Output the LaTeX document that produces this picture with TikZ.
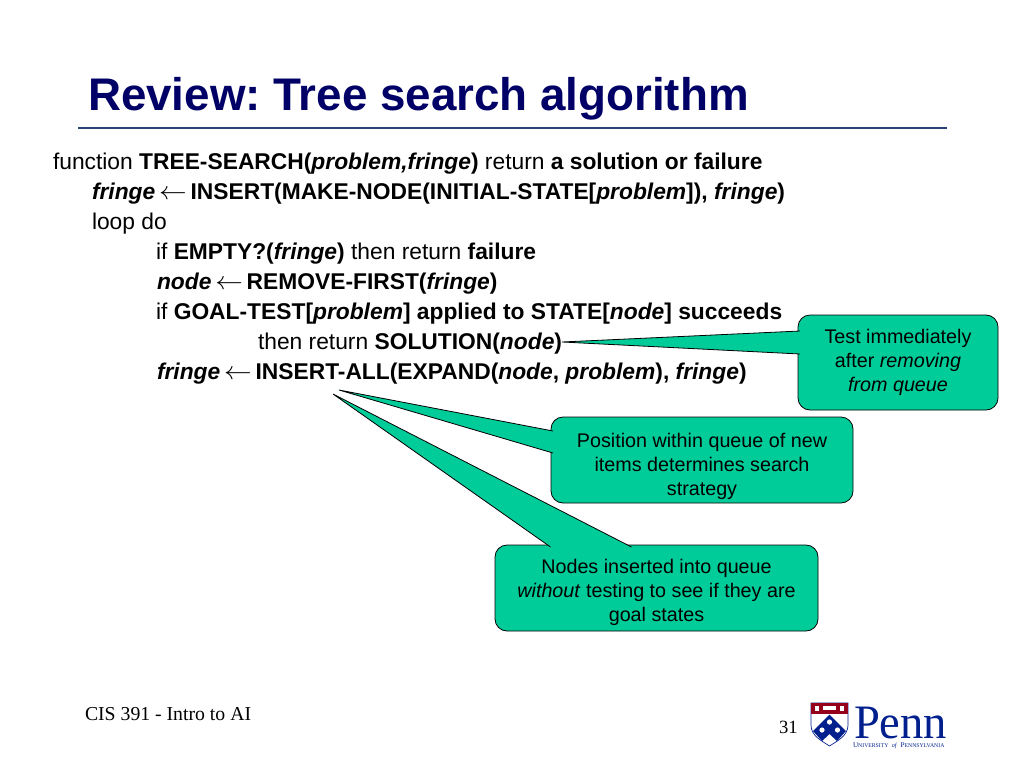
\documentclass[tikz,border=0pt]{standalone}
\usepackage{fontspec}
\usepackage{graphicx}
\setmainfont{Liberation Sans}
\newfontfamily\timesfont{Liberation Serif}
\usetikzlibrary{calc}
\definecolor{titleblue}{RGB}{0,0,102}
\definecolor{rulelineblue}{RGB}{40,70,120}
\definecolor{calloutgreen}{RGB}{0,204,153}
\definecolor{pennblue}{RGB}{1,31,141}
\definecolor{pennred}{RGB}{149,0,26}
\newcommand{\bi}[1]{\textbf{\textit{#1}}}
\newcommand{\fromarrow}{\,\scalebox{1.2}[1.1]{$\leftarrow$}\,}
\newcommand{\smcap}[2]{{\fontsize{5.4}{6}\selectfont #1}{\fontsize{4.3}{6}\selectfont #2}}
\begin{document}
\begin{tikzpicture}[x=.75pt,y=-.75pt,inner sep=0pt,outer sep=0pt,
codeline/.style={anchor=base west,font=\fontsize{17.1}{20}\selectfont},
callbox/.style={draw=black,fill=calloutgreen,rounded corners=9pt,line width=.6pt,align=center,font=\fontsize{14.8}{18}\selectfont},
calltail/.style={draw=black,fill=calloutgreen,line width=.6pt,line join=miter}]
\useasboundingbox (0,0) rectangle (1024,768);

\draw (88,110) node[anchor=base west,text=titleblue,font=\fontsize{34.3}{36}\selectfont\bfseries\frenchspacing] (title) {Review: Tree search algorithm};
\coordinate (ruleleft) at (78,128);
\coordinate (ruleright) at (947,128);
\draw[rulelineblue,line width=1pt] (ruleleft) -- (ruleright);

\draw (53,169) node[codeline] (l1) {function \textbf{TREE-SEARCH(}\bi{problem,fringe}\textbf{)} return \textbf{a solution or failure}};
\draw (92,199) node[codeline] (l2) {\bi{fringe}\fromarrow\textbf{INSERT(MAKE-NODE(INITIAL-STATE[}\bi{problem}\textbf{]),} \bi{fringe}\textbf{)}};
\draw (92,229) node[codeline] (l3) {loop do};
\draw (156,259) node[codeline] (l4) {if \textbf{EMPTY?(}\bi{fringe}\textbf{)} then return \textbf{failure}};
\draw (157,289) node[codeline] (l5) {\bi{node}\fromarrow\textbf{REMOVE-FIRST(}\bi{fringe}\textbf{)}};
\draw (156,319) node[codeline] (l6) {if \textbf{GOAL-TEST[}\bi{problem}\textbf{] applied to STATE[}\bi{node}\textbf{] succeeds}};
\draw (258,349) node[codeline] (l7) {then return \textbf{SOLUTION(}\bi{node}\textbf{)}};
\draw (157,379) node[codeline] (l8) {\bi{fringe}\fromarrow\textbf{INSERT-ALL(EXPAND(}\bi{node}\textbf{,} \bi{problem}\textbf{),} \bi{fringe}\textbf{)}};

\draw (898,362.5) node[callbox,minimum width=150pt,minimum height=71.25pt] (test) {Test immediately\\after \textit{removing}\\\textit{from queue}};
\draw (656.5,588) node[callbox,minimum width=242.25pt,minimum height=64.5pt] (nodes) {\rule{0pt}{17pt}Nodes inserted into queue\\\textit{without} testing to see if they are\\goal states};
\draw (702,460) node[callbox,minimum width=226.5pt,minimum height=64.5pt] (position) {\rule{0pt}{20pt}Position within queue of new\\items determines search\\strategy};

\coordinate (testtip) at (562,342);
\coordinate (positiontip) at (339,390);
\coordinate (nodestip) at (333,394);
\draw[calltail] ($(test.west)+(2,-31.5)$) -- (testtip) -- ($(test.west)+(2,-8.5)$);
\draw[calltail] ($(nodes.north)+(-106,2)$) -- (nodestip) -- ($(nodes.north)+(-25,2)$);
\draw[calltail] ($(position.west)+(2,-29)$) -- (positiontip) -- ($(position.west)+(2,-7)$);

\draw (85,720) node[anchor=base west,font=\fontsize{14.8}{16}\selectfont\timesfont] (course) {CIS 391 - Intro to AI};
\draw (779,733) node[anchor=base west,font=\fontsize{14}{16}\selectfont\timesfont] (pagenum) {31};

\fill[white,draw=pennblue,line width=.5pt] (811,703) -- (811,725) .. controls (811,736) and (822,741) .. (829.5,746) .. controls (837,741) and (848,736) .. (848,725) -- (848,703) -- cycle;
\fill[pennred] (811,703) rectangle (848,714);
\fill[pennblue] (829.5,714.5) -- (846,731) -- (837,741) -- (829.5,734) -- (822,741) -- (813,731) -- cycle;
\foreach \dotx/\doty in {829.5/722,822/730,837.5/730}
  \fill[white] (\dotx,\doty) circle (2.6);
\foreach \boxx in {815,840}
  \fill[white] (\boxx,706) rectangle ++(4,5);
\fill[white] (823,706) rectangle (836,710);

\draw (854,738) node[anchor=base west,xscale=.97,text=pennblue,font=\fontsize{36}{40}\selectfont\timesfont] (penn) {Penn};
\draw (853,747.5) node[anchor=base west,text=pennblue,font=\timesfont] (pennsub) {\smcap{U}{NIVERSITY} {\fontsize{4.6}{6}\selectfont\textit{of}} \smcap{P}{ENNSYLVANIA}};
\end{tikzpicture}
\end{document}
